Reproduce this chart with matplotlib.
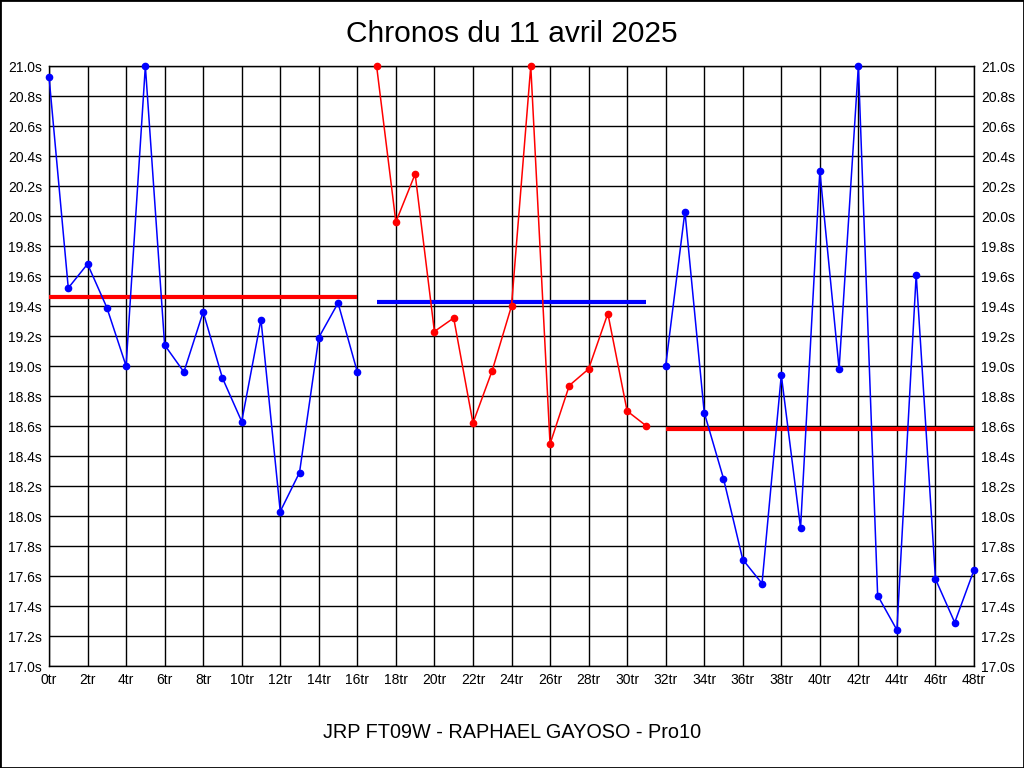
import matplotlib
matplotlib.use("Agg")
import matplotlib.pyplot as plt
from matplotlib.patches import Rectangle

plt.rcParams['font.family'] = ['Liberation Sans', 'DejaVu Sans']

title = "Chronos du 11 avril 2025"
subtitle = "JRP FT09W - RAPHAEL GAYOSO - Pro10"

laps1 = list(range(0, 17))
times1 = [20.93, 19.52, 19.68, 19.39, 19.00, 21.00, 19.14, 18.96, 19.36, 18.92,
          18.63, 19.31, 18.03, 18.29, 19.19, 19.42, 18.96]
laps2 = list(range(17, 32))
times2 = [21.00, 19.96, 20.28, 19.23, 19.32, 18.62, 18.97, 19.40, 21.00, 18.48,
          18.87, 18.98, 19.35, 18.70, 18.60]
laps3 = list(range(32, 49))
times3 = [19.00, 20.03, 18.69, 18.25, 17.71, 17.55, 18.94, 17.92, 20.30, 18.98,
          21.00, 17.47, 17.24, 19.61, 17.58, 17.29, 17.64]

mean1 = 19.46
mean2 = 19.43
mean3 = 18.58

series = [(laps1, times1, 'blue', mean1, 'red'),
          (laps2, times2, 'red', mean2, 'blue'),
          (laps3, times3, 'blue', mean3, 'red')]

fig = plt.figure(figsize=(10.24, 7.68), dpi=100)
ax = fig.add_axes([49/1024, (768-666)/768, (974-49)/1024, 600/768])

for laps, times, col, mean, mcol in series:
    ax.plot(laps, times, color=col, lw=1.1, marker='o', ms=4.5, clip_on=False, zorder=4)
    ax.plot([laps[0], laps[-1]], [mean, mean], color=mcol, lw=3, zorder=3, solid_capstyle='butt')

ax.set_xlim(0, 48)
ax.set_ylim(17.0, 21.0)
xt = list(range(0, 49, 2))
ax.set_xticks(xt)
ax.set_xticklabels([f"{v}tr" for v in xt])
yt = [17.0 + 0.2 * i for i in range(21)]
ax.set_yticks(yt)
ax.set_yticklabels([f"{v:.1f}s" for v in yt])
ax.grid(True, color='black', lw=1)
ax.set_axisbelow(True)
ax.tick_params(axis='both', length=0, labelsize=10, pad=5)
ax.tick_params(axis='y', right=True, labelright=True)
for s in ax.spines.values():
    s.set_color('black')
    s.set_linewidth(1)

fig.text(0.5, 1 - 34/768, title, ha='center', va='center', fontsize=21.5)
fig.text(0.5, 1 - 733/768, subtitle, ha='center', va='center', fontsize=14.3)
fig.patches.append(Rectangle((0, 0), 1, 1, transform=fig.transFigure, fill=False,
                             edgecolor='black', lw=2))

fig.savefig("out.png", dpi=100)
